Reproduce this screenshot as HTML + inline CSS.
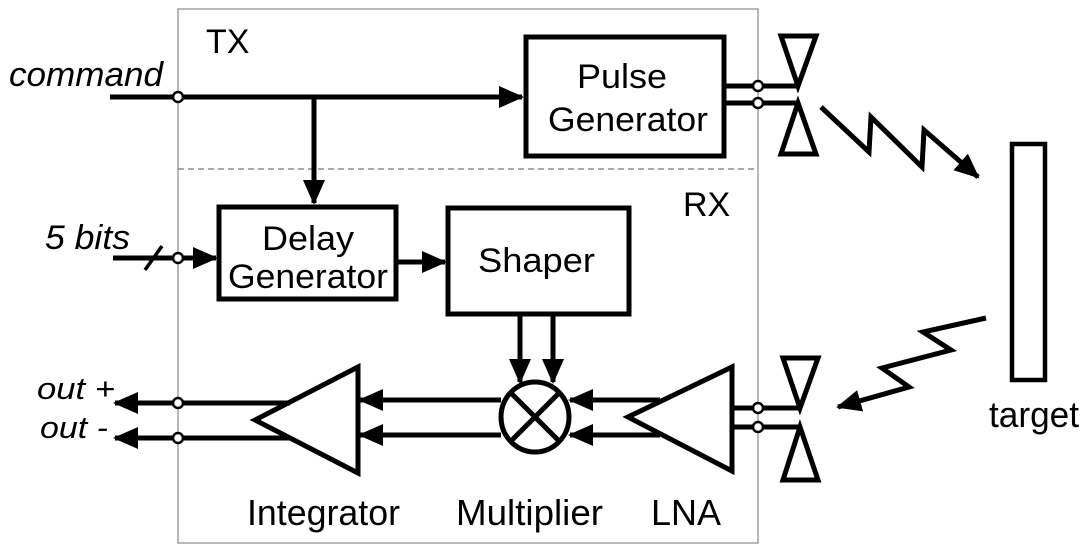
<!DOCTYPE html>
<html><head><meta charset="utf-8"><style>html,body{margin:0;padding:0;background:#fff}svg{display:block}</style></head>
<body>
<svg width="1088" height="551" viewBox="0 0 1088 551" xmlns="http://www.w3.org/2000/svg" font-family="Liberation Sans, Arial, sans-serif">
<defs>
<marker id="ah" markerWidth="5" markerHeight="4.4" refX="4.6" refY="2.2" orient="auto" markerUnits="strokeWidth">
<path d="M0,0 L5,2.2 L0,4.4 Z" fill="#000"/>
</marker>
</defs>
<rect width="1088" height="551" fill="#fff"/>
<rect x="178" y="9" width="580" height="534" fill="none" stroke="#888" stroke-width="1.2"/>
<line x1="178" y1="169" x2="758" y2="169" stroke="#555" stroke-width="1" stroke-dasharray="6,4"/>
<text x="206" y="53" font-size="34">TX</text>
<text x="683" y="216" font-size="34">RX</text>

<g stroke="#000" stroke-width="5" fill="none" stroke-linejoin="miter">
<line x1="110" y1="97" x2="522" y2="97" marker-end="url(#ah)"/>
<line x1="314" y1="97" x2="314" y2="203" marker-end="url(#ah)"/>
<rect x="526" y="37" width="198" height="119"/>
<line x1="724" y1="86" x2="798" y2="86"/>
<line x1="724" y1="103" x2="798" y2="103"/>
<path d="M781,36 L816,36 L798,86 Z"/>
<path d="M798,103 L816,154 L781,154 Z"/>
<polyline points="821,107 869,152 871,117 922,167 924,130 978,177" marker-end="url(#ah)"/>
<rect x="1012" y="144" width="33" height="236" stroke-width="4.5"/>
<rect x="219" y="207" width="177" height="92"/>
<line x1="113" y1="258" x2="216" y2="258" marker-end="url(#ah)"/>
<line x1="398" y1="262" x2="445" y2="262" marker-end="url(#ah)"/>
<rect x="448" y="208" width="181" height="106"/>
<line x1="520" y1="314" x2="520" y2="382" marker-end="url(#ah)"/>
<line x1="553" y1="314" x2="553" y2="382" marker-end="url(#ah)"/>
<ellipse cx="535" cy="417" rx="34" ry="35"/>
<line x1="511" y1="393" x2="559" y2="441"/>
<line x1="559" y1="393" x2="511" y2="441"/>
<path d="M732,367 L732,471 L628,417 Z"/>
<line x1="660" y1="400" x2="570" y2="400" marker-end="url(#ah)"/>
<line x1="660" y1="435" x2="570" y2="435" marker-end="url(#ah)"/>
<line x1="732" y1="408" x2="800" y2="408"/>
<line x1="732" y1="427" x2="800" y2="427"/>
<path d="M783,358 L818,358 L800,408 Z"/>
<path d="M800,427 L818,480 L783,480 Z"/>
<polyline points="986,318 923,332 951,350 882,368 909,387 838,407" marker-end="url(#ah)"/>
<line x1="501" y1="400" x2="360" y2="400" marker-end="url(#ah)"/>
<line x1="501" y1="435" x2="360" y2="435" marker-end="url(#ah)"/>
<path d="M358,367 L358,473 L255,420 Z"/>
<line x1="290" y1="403" x2="115" y2="403" marker-end="url(#ah)"/>
<line x1="290" y1="438" x2="115" y2="438" marker-end="url(#ah)"/>
<line x1="145" y1="270" x2="162" y2="246" stroke-width="3.5"/>
</g>
<g fill="#fff" stroke="#000" stroke-width="2.5">
<circle cx="178" cy="97" r="5"/>
<circle cx="178" cy="258" r="5"/>
<circle cx="758" cy="86" r="5"/>
<circle cx="758" cy="103" r="5"/>
<circle cx="758" cy="408" r="5"/>
<circle cx="758" cy="427" r="5"/>
<circle cx="178" cy="403" r="5"/>
<circle cx="178" cy="438" r="5"/>
</g>
<g font-size="34" fill="#000">
<text x="9" y="86" font-style="italic" textLength="154" lengthAdjust="spacingAndGlyphs">command</text>
<text x="45" y="249" font-style="italic" textLength="85" lengthAdjust="spacingAndGlyphs">5 bits</text>
<text x="622" y="88" text-anchor="middle" textLength="90" lengthAdjust="spacingAndGlyphs">Pulse</text>
<text x="548" y="131" textLength="160" lengthAdjust="spacingAndGlyphs">Generator</text>
<text x="308" y="250" text-anchor="middle" textLength="92" lengthAdjust="spacingAndGlyphs">Delay</text>
<text x="228" y="288" textLength="160" lengthAdjust="spacingAndGlyphs">Generator</text>
<text x="478" y="272" textLength="117" lengthAdjust="spacingAndGlyphs">Shaper</text>
<text x="37" y="399" font-size="31" font-style="italic" textLength="78" lengthAdjust="spacingAndGlyphs">out +</text>
<text x="40" y="438" font-size="31" font-style="italic" textLength="68" lengthAdjust="spacingAndGlyphs">out -</text>
<text x="247" y="525" font-size="36" textLength="153" lengthAdjust="spacingAndGlyphs">Integrator</text>
<text x="456" y="525" font-size="36" textLength="147" lengthAdjust="spacingAndGlyphs">Multiplier</text>
<text x="651" y="525" font-size="36" textLength="70" lengthAdjust="spacingAndGlyphs">LNA</text>
<text x="989" y="427" font-size="36" textLength="90" lengthAdjust="spacingAndGlyphs">target</text>
</g>
</svg>
</body></html>
